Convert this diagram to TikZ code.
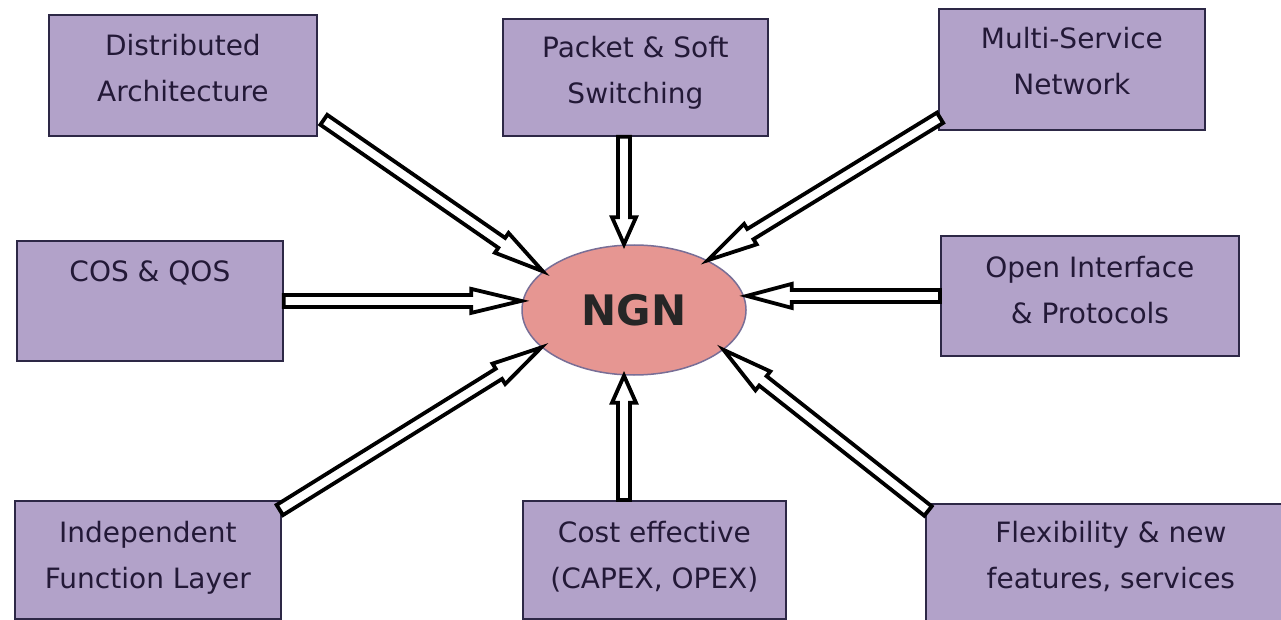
\documentclass[tikz,border=0pt]{standalone}
\usepackage{fontspec}
\setmainfont{DejaVu Sans}
\usetikzlibrary{calc,shapes.geometric}
\definecolor{boxfill}{RGB}{178,162,201}
\definecolor{boxline}{RGB}{45,40,70}
\definecolor{ngnfill}{RGB}{230,150,146}
\definecolor{ngnline}{RGB}{120,110,150}
\definecolor{txt}{RGB}{35,25,55}
\newcommand\blockarrow[3]{%
  \coordinate (ba-t) at (#1);
  \coordinate (ba-h) at (#2);
  \coordinate (ba-b) at ($(ba-h)!#3!(ba-t)$);
  \draw[arrowline] ($(ba-t)!6pt!90:(ba-h)$) -- ($(ba-b)!6pt!-90:(ba-t)$) -- ($(ba-b)!12pt!-90:(ba-t)$) -- (ba-h) -- ($(ba-b)!12pt!90:(ba-t)$) -- ($(ba-b)!6pt!90:(ba-t)$) -- ($(ba-t)!6pt!-90:(ba-h)$) -- cycle;
}
\begin{document}
\begin{tikzpicture}[x=1pt,y=-1pt,
  box/.style={draw=boxline, line width=1.8pt, fill=boxfill, rectangle, inner sep=0pt, anchor=north west},
  lbl/.style={font=\fontsize{28}{46}\selectfont, text=txt, align=center, inner sep=0pt, anchor=base},
  arrowline/.style={draw=black, line width=3.8pt, fill=white, line join=miter}]
\useasboundingbox[fill=white] (0,0) rectangle (1281,620);

\node[box, minimum width=268pt, minimum height=121pt] (dist)  at (48,14)   {};
\node[box, minimum width=265pt, minimum height=117pt] (pkt)   at (502,18)  {};
\node[box, minimum width=266pt, minimum height=121pt] (multi) at (938,8)   {};
\node[box, minimum width=266pt, minimum height=120pt] (cos)   at (16,240)  {};
\node[box, minimum width=298pt, minimum height=120pt] (open)  at (940,235) {};
\node[box, minimum width=266pt, minimum height=118pt] (indep) at (14,500)  {};
\node[box, minimum width=263pt, minimum height=118pt] (cost)  at (522,500) {};
\node[box, minimum width=370pt, minimum height=137pt] (flex)  at (925,503) {};

% base anchor = baseline of the last line
\node[lbl] (t-dist)  at ($(dist.north)+(0,88)$)  {Distributed\\Architecture};
\node[lbl] (t-pkt)   at ($(pkt.north)+(0,86)$)   {Packet \& Soft\\Switching};
\node[lbl] (t-multi) at ($(multi.north)+(0,87)$) {Multi-Service\\Network};
\node[lbl] (t-cos)   at ($(cos.north)+(0,41)$)   {COS \& QOS};
\node[lbl] (t-open)  at ($(open.north)+(0,88)$)  {Open Interface\\\& Protocols};
\node[lbl] (t-indep) at ($(indep.north)+(0,88)$) {Independent\\Function Layer};
\node[lbl] (t-cost)  at ($(cost.north)+(0,88)$)  {Cost effective\\(CAPEX, OPEX)};
\node[lbl] (t-flex)  at ($(flex.north)+(0,85)$)  {Flexibility \& new\\features, services};

\node[ellipse, draw=ngnline, line width=1.5pt, fill=ngnfill, minimum width=224pt, minimum height=130pt, inner sep=0pt, font=\fontsize{42}{50}\selectfont\bfseries, text=black!85] (ngn) at (634,310) {NGN};

\blockarrow{[shift={(6,-17)}]dist.south east}{ngn.157}{50pt}
\blockarrow{$(ngn.north |- pkt.south)+(-10,0)$}{$(ngn.north)+(-10,0)$}{27pt}
\blockarrow{[shift={(2,-13)}]multi.south west}{ngn.34}{50pt}
\blockarrow{cos.east}{cos.east -| ngn.west}{50pt}
\blockarrow{open.west}{open.west -| ngn.east}{45pt}
\blockarrow{[shift={(-2,10)}]indep.north east}{ngn.202}{50pt}
\blockarrow{$(ngn.south |- cost.north)+(-10,0)$}{$(ngn.south)+(-10,0)$}{27pt}
\blockarrow{[shift={(3,8)}]flex.north west}{ngn.336}{50pt}
\end{tikzpicture}
\end{document}
